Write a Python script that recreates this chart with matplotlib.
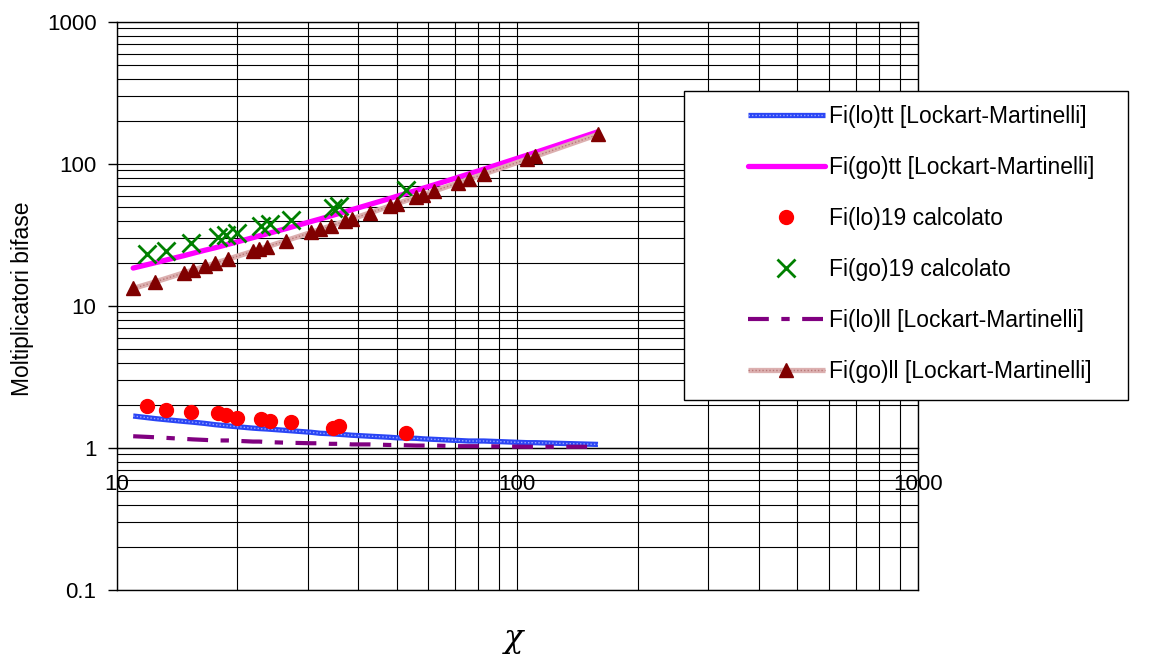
import matplotlib
matplotlib.use("Agg")
import matplotlib.pyplot as plt
from matplotlib.ticker import LogLocator, FixedLocator, FuncFormatter, NullFormatter
from matplotlib.patches import Rectangle
from matplotlib.legend_handler import HandlerTuple

plt.rcParams['font.family'] = ['Liberation Sans', 'DejaVu Sans']

# ---- data ----
chi = [11.0, 12.5, 14.7, 15.5, 16.6, 17.6, 19.0, 21.9, 22.7, 23.8, 26.5, 30.6, 32.2, 34.2,
       37.2, 38.6, 43.0, 48.0, 50.0, 55.9, 58.2, 62.1, 71.0, 75.7, 82.5, 106.0, 111.0, 159.0]
fi_lo_tt = [1.68, 1.61, 1.54, 1.52, 1.49, 1.46, 1.43, 1.38, 1.37, 1.36, 1.33, 1.29, 1.27, 1.26,
            1.24, 1.23, 1.21, 1.19, 1.18, 1.17, 1.16, 1.15, 1.13, 1.12, 1.12, 1.09, 1.09, 1.06]
fi_go_tt = [18.5, 20.2, 22.6, 23.5, 24.7, 25.7, 27.2, 30.3, 31.2, 32.3, 35.1, 39.4, 41.0, 43.1,
            46.1, 47.6, 52.1, 57.1, 59.2, 65.1, 67.5, 71.4, 80.4, 85.1, 92.0, 115.6, 120.6, 168.7]
fi_lo_ll = [1.21, 1.19, 1.16, 1.15, 1.14, 1.13, 1.13, 1.11, 1.11, 1.10, 1.09, 1.08, 1.08, 1.07,
            1.07, 1.06, 1.06, 1.05, 1.05, 1.04, 1.04, 1.04, 1.03, 1.03, 1.03, 1.02, 1.02, 1.02]
fi_go_ll = [13.3, 14.8, 17.1, 17.9, 19.0, 20.0, 21.4, 24.3, 25.1, 26.2, 28.9, 33.0, 34.6, 36.6,
            39.6, 41.0, 45.4, 50.5, 52.5, 58.4, 60.7, 64.6, 73.5, 78.2, 85.0, 108.5, 113.5, 161.5]

chi_19 = [11.9, 13.3, 15.3, 17.9, 18.7, 20.0, 22.9, 24.2, 27.2, 34.6, 35.8, 52.8]
fi_lo_19 = [1.97, 1.85, 1.80, 1.75, 1.71, 1.62, 1.61, 1.55, 1.53, 1.39, 1.43, 1.27]
fi_go_19 = [23.1, 24.4, 27.7, 30.7, 31.7, 32.6, 36.5, 38.0, 40.4, 49.0, 50.4, 65.9]

labels = ["Fi(lo)tt [Lockart-Martinelli]", "Fi(go)tt [Lockart-Martinelli]",
          "Fi(lo)19 calcolato", "Fi(go)19 calcolato",
          "Fi(lo)ll [Lockart-Martinelli]", "Fi(go)ll [Lockart-Martinelli]"]
x_ticks = [10, 100, 1000]
y_ticks = [0.1, 1, 10, 100, 1000]

W, H = 1155, 654
fig = plt.figure(figsize=(W / 100, H / 100), dpi=100)
L, R, T, B = 116.6, 918.0, 22.0, 590.0
ax = fig.add_axes([L / W, 1 - B / H, (R - L) / W, (B - T) / H])
ax.set_xscale('log')
ax.set_yscale('log')
ax.set_xlim(10, 1000)
ax.set_ylim(0.1, 1000)

# grid
ax.grid(True, which='both', color='black', linewidth=0.8)
ax.set_axisbelow(True)

# series
l1a, = ax.plot(chi, fi_lo_tt, color='#2a45f5', lw=3.8, solid_capstyle='butt', zorder=3)
l1b, = ax.plot(chi, fi_lo_tt, color='#9aa8ff', lw=1.0, ls=(0, (1, 1.5)), zorder=3)
l2, = ax.plot(chi, fi_go_tt, color='#ff00ff', lw=3.8, solid_capstyle='round', zorder=3)
l3, = ax.plot(chi_19, fi_lo_19, ls='none', marker='o', ms=10, color='#ff0000', zorder=4)
l4, = ax.plot(chi_19, fi_go_19, ls='none', marker='x', ms=13.5, mew=2.0, color='#008000', zorder=4)
l5, = ax.plot(chi, fi_lo_ll, color='#800080', lw=3.0, ls=(0, (5, 3, 2, 3)), zorder=4)
l6a, = ax.plot(chi, fi_go_ll, color='#dcb0b0', lw=3.8, solid_capstyle='butt', zorder=4)
l6b, = ax.plot(chi, fi_go_ll, color='#b87878', lw=1.0, ls=(0, (1, 1.5)), zorder=4)
l6c, = ax.plot(chi, fi_go_ll, ls='none', marker='^', ms=10.5, color='#800000', zorder=5)

# axes styling
ax.spines['bottom'].set_position(('data', 1))
for s in ax.spines.values():
    s.set_color('black')
    s.set_linewidth(1.0)
ax.axhline(0.1, color='black', lw=1.0, clip_on=False, zorder=2)

ax.xaxis.set_major_locator(FixedLocator(x_ticks))
ax.xaxis.set_minor_locator(LogLocator(base=10, subs=range(2, 10), numticks=20))
ax.xaxis.set_major_formatter(FuncFormatter(lambda v, p: '%g' % v))
ax.xaxis.set_minor_formatter(NullFormatter())
ax.yaxis.set_major_locator(FixedLocator(y_ticks))
ax.yaxis.set_minor_locator(LogLocator(base=10, subs=range(2, 10), numticks=20))
ax.yaxis.set_major_formatter(FuncFormatter(lambda v, p: '%g' % v))
ax.yaxis.set_minor_formatter(NullFormatter())
ax.tick_params(axis='x', which='both', length=0, pad=19, labelsize=16)
ax.tick_params(axis='y', which='major', direction='out', length=6.5, width=1, pad=8, labelsize=16)
ax.tick_params(axis='y', which='minor', length=0)

fig.text(22 / W, 1 - 299 / H, 'Moltiplicatori bifase', rotation=90, ha='center', va='center', fontsize=16.5)
fig.text(514 / W, 1 - 638 / H, 'χ', ha='center', va='center', fontsize=23, style='italic',
         family=['DejaVu Serif'])

# legend frame
fig.patches.append(Rectangle((684 / W, 1 - 400 / H), (1128 - 684) / W, (400 - 91) / H,
                             transform=fig.transFigure, facecolor='white', edgecolor='black',
                             lw=1.0, zorder=4))
leg = fig.legend([(l1a, l1b), l2, l3, l4, l5, (l6a, l6b, l6c)], labels,
                 loc='upper left', bbox_to_anchor=(748 / W, 1 - 105 / H),
                 bbox_transform=fig.transFigure, frameon=False, fontsize=16.5,
                 handlelength=3.35, handletextpad=0.2, labelspacing=1.22, borderpad=0,
                 borderaxespad=0, numpoints=1,
                 handler_map={tuple: HandlerTuple(ndivide=1, pad=0)})
leg.set_zorder(6)

fig.savefig('out.png', dpi=100)
